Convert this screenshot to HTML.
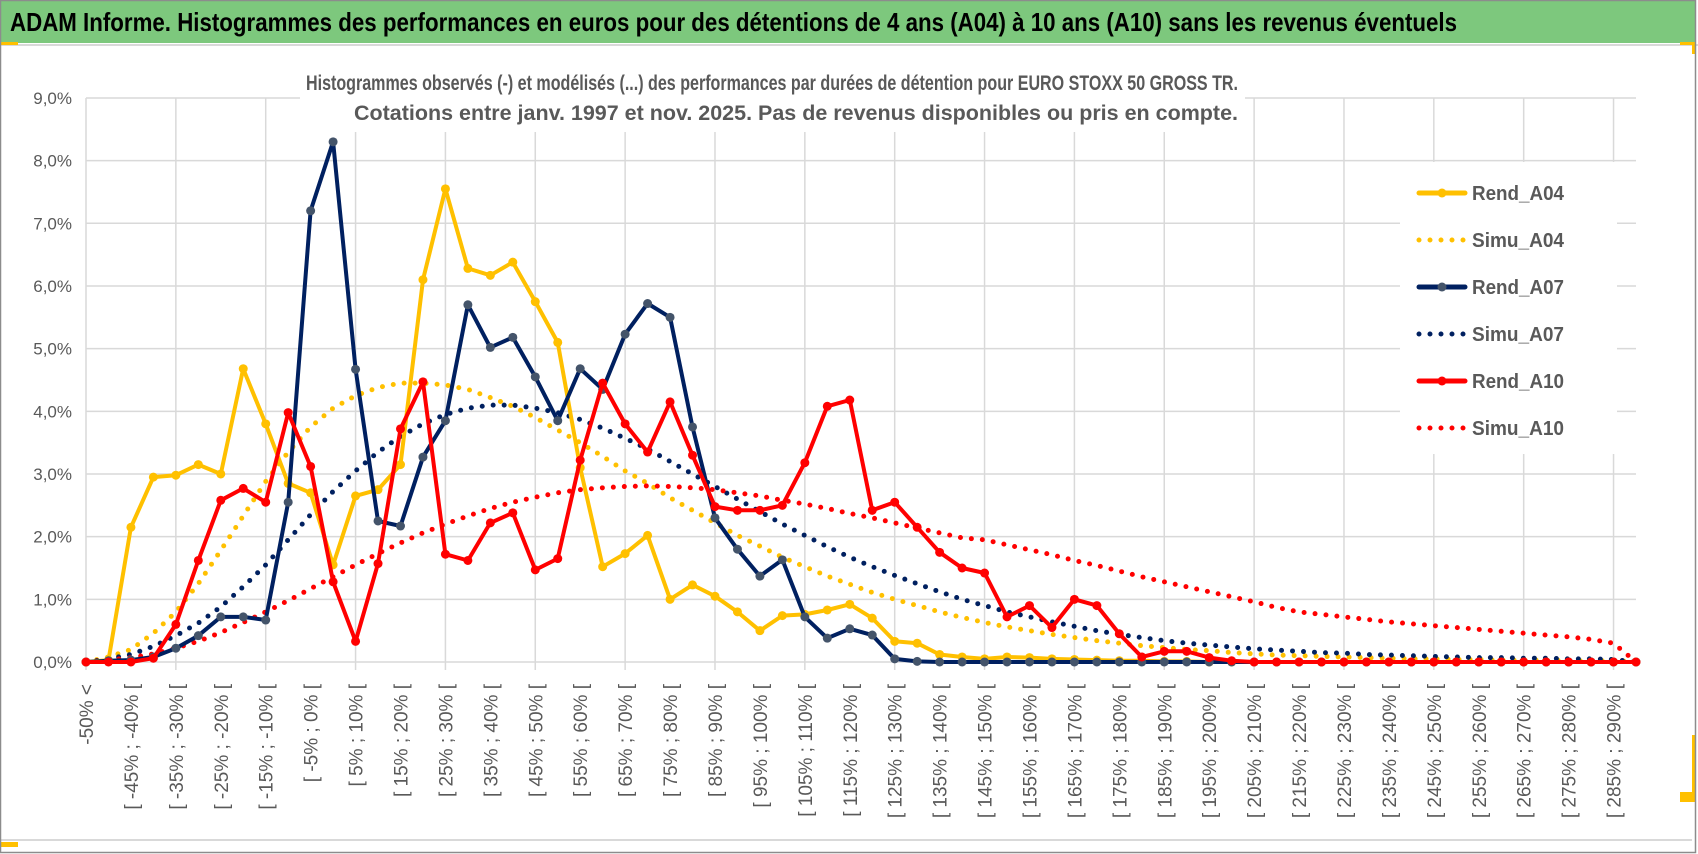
<!DOCTYPE html>
<html><head><meta charset="utf-8"><style>
html,body{margin:0;padding:0;background:#fff;}
svg{display:block;font-family:"Liberation Sans Narrow","Liberation Sans",sans-serif;}
</style></head><body>
<svg id="chart" width="1698" height="854" viewBox="0 0 1698 854" xmlns="http://www.w3.org/2000/svg">
<rect x="0" y="0" width="1698" height="854" fill="#fff"/>
<rect x="1" y="1" width="1694" height="42" fill="#7dc87d"/>
<line x1="0" y1="45" x2="1698" y2="45" stroke="#d9d9d9" stroke-width="2"/>
<rect x="1" y="42" width="17" height="3" fill="#ffc000"/>
<rect x="1680" y="42" width="15" height="3" fill="#ffc000"/>
<rect x="1692" y="42" width="3" height="12" fill="#ffc000"/>
<rect x="1680" y="792" width="15" height="10" fill="#ffc000"/>
<rect x="1692" y="735" width="3" height="65" fill="#ffc000"/>
<rect x="1" y="842" width="17" height="5" fill="#ffc000"/>
<line x1="1" y1="840" x2="1692" y2="840" stroke="#d9d9d9" stroke-width="2"/>
<rect x="0.5" y="0.5" width="1695" height="852" fill="none" stroke="#8c8c8c" stroke-width="1.5"/>
<text x="10" y="31" font-size="26" font-weight="bold" fill="#000" textLength="1447" lengthAdjust="spacingAndGlyphs">ADAM Informe. Histogrammes des performances en euros pour des détentions de 4 ans (A04) à 10 ans (A10) sans les revenus éventuels</text>
<g id="grid"></g>
<g id="axes"></g>
<g id="series"></g>
<rect x="300" y="62" width="945" height="70" fill="#fff"/>
<text x="772" y="90" text-anchor="middle" font-size="21" font-weight="bold" fill="#595959" font-family="Liberation Sans Narrow, Liberation Sans, sans-serif" textLength="932" lengthAdjust="spacingAndGlyphs">Histogrammes observés (-) et modélisés (...) des performances par durées de détention pour EURO STOXX 50 GROSS TR.</text>
<text x="796" y="120" text-anchor="middle" font-size="21" font-weight="bold" fill="#595959" font-family="Liberation Sans Narrow, Liberation Sans, sans-serif" textLength="884" lengthAdjust="spacingAndGlyphs">Cotations entre janv. 1997 et nov. 2025. Pas de revenus disponibles ou pris en compte.</text>
<g id="legend"></g>
</svg>
<script>
const categoryLower = [];
for (let k = 0; k < 70; k++) categoryLower.push(-55 + 5 * k);
const yTicks = [0,1,2,3,4,5,6,7,8,9];
const yTickLabels = ["0,0%","1,0%","2,0%","3,0%","4,0%","5,0%","6,0%","7,0%","8,0%","9,0%"];
const rendA04 = [0,0.03,2.15,2.95,2.98,3.15,3.0,4.68,3.8,2.85,2.7,1.55,2.65,2.75,3.15,6.1,7.55,6.28,6.17,6.38,5.75,5.1,3.1,1.52,1.73,2.02,1.0,1.23,1.05,0.8,0.5,0.74,0.76,0.83,0.92,0.7,0.33,0.3,0.12,0.08,0.05,0.08,0.07,0.05,0.04,0.03,0.02,0.02,0.01,0.01,0,0,0,0,0,0,0,0,0,0,0,0,0,0,0,0,0,0,0,0];
const simuA04 = [0,0.08,0.2,0.46,0.8,1.25,1.78,2.33,2.88,3.35,3.75,4.05,4.25,4.38,4.45,4.45,4.42,4.35,4.22,4.08,3.9,3.7,3.5,3.28,3.05,2.85,2.62,2.42,2.22,2.02,1.85,1.67,1.52,1.37,1.24,1.11,1.0,0.9,0.8,0.71,0.63,0.56,0.5,0.44,0.39,0.34,0.3,0.26,0.23,0.2,0.18,0.15,0.13,0.11,0.1,0.09,0.08,0.07,0.06,0.05,0.05,0.04,0.04,0.03,0.03,0.03,0.02,0.02,0.02,0];
const rendA07 = [0,0.02,0.03,0.08,0.22,0.42,0.72,0.72,0.67,2.55,7.2,8.3,4.67,2.25,2.17,3.27,3.85,5.7,5.02,5.18,4.55,3.85,4.68,4.35,5.23,5.72,5.5,3.75,2.3,1.8,1.37,1.63,0.72,0.38,0.53,0.43,0.05,0.01,0,0,0,0,0,0,0,0,0,0,0,0,0,0,0,0,0,0,0,0,0,0,0,0,0,0,0,0,0,0,0,0];
const simuA07 = [0,0.05,0.12,0.25,0.42,0.62,0.88,1.2,1.55,1.95,2.35,2.72,3.05,3.35,3.6,3.8,3.95,4.05,4.1,4.1,4.05,3.98,3.87,3.73,3.57,3.4,3.2,3.0,2.8,2.6,2.4,2.2,2.02,1.84,1.67,1.52,1.38,1.25,1.12,1.0,0.9,0.8,0.72,0.64,0.57,0.5,0.44,0.39,0.34,0.3,0.27,0.24,0.21,0.19,0.17,0.15,0.14,0.12,0.11,0.1,0.09,0.08,0.07,0.07,0.06,0.06,0.05,0.05,0.04,0];
const rendA10 = [0,0,0,0.06,0.6,1.62,2.58,2.77,2.55,3.98,3.12,1.28,0.33,1.57,3.72,4.47,1.72,1.62,2.22,2.38,1.47,1.65,3.22,4.45,3.8,3.35,4.15,3.3,2.48,2.42,2.42,2.5,3.18,4.08,4.18,2.42,2.55,2.15,1.75,1.5,1.42,0.72,0.9,0.55,1.0,0.9,0.45,0.08,0.17,0.17,0.07,0.02,0,0,0,0,0,0,0,0,0,0,0,0,0,0,0,0,0,0];
const simuA10 = [0,0.03,0.07,0.13,0.22,0.33,0.47,0.63,0.8,0.98,1.17,1.36,1.55,1.73,1.9,2.06,2.2,2.33,2.45,2.55,2.63,2.7,2.75,2.78,2.8,2.81,2.8,2.78,2.75,2.7,2.65,2.58,2.52,2.45,2.37,2.3,2.22,2.14,2.06,1.98,1.95,1.87,1.79,1.71,1.62,1.54,1.45,1.36,1.28,1.2,1.12,1.04,0.96,0.87,0.8,0.76,0.72,0.68,0.64,0.61,0.58,0.55,0.52,0.49,0.46,0.43,0.4,0.36,0.3,0];

const NS = "http://www.w3.org/2000/svg";
const X0 = 86, X1 = 1636, Y0 = 662, YPER = 62.67;
const xPos = i => X0 + i * (X1 - X0) / (categoryLower.length - 1);
const yPos = v => Y0 - v * YPER;
function mk(tag, attrs, parent) {
  const e = document.createElementNS(NS, tag);
  for (const k in attrs) e.setAttribute(k, attrs[k]);
  parent.appendChild(e); return e;
}
const grid = document.getElementById('grid');
const axes = document.getElementById('axes');
yTicks.forEach((t, j) => {
  const l = mk('line', {x1: X0, x2: X1, y1: yPos(t), y2: yPos(t), stroke: '#d9d9d9', 'stroke-width': 1.5}, grid);
  
  
  const tx = mk('text', {x: 72, y: yPos(t) + 6, 'text-anchor': 'end', 'font-size': 17, fill: '#595959', 'font-family': 'Liberation Sans, sans-serif'}, axes);
  tx.textContent = yTickLabels[j];
  
  
});
categoryLower.forEach((lo, i) => {
  if (i % 4 === 0) {
    const g = mk('line', {x1: xPos(i), x2: xPos(i), y1: yPos(9), y2: Y0 + 8, stroke: '#d9d9d9', 'stroke-width': 1.5}, grid);
    
    
  }
  if (i % 2 === 0) {
    const label = i === 0 ? '-50% <' : '[ ' + lo + '% ; ' + (lo + 5) + '% [';
    const x = xPos(i) + 7, y = 684;
    const t = mk('text', {x: x, y: y, transform: 'rotate(-90 ' + x + ' ' + y + ')', 'text-anchor': 'end', 'font-size': 19, fill: '#595959', 'font-family': 'Liberation Sans, sans-serif'}, axes);
    t.textContent = label;
    
    
  }
});
const series = document.getElementById('series');
function pts(arr) { return arr.map((v, i) => xPos(i).toFixed(1) + ',' + yPos(v).toFixed(1)).join(' '); }
function dotted(arr, color, name) {
  const p = mk('polyline', {points: pts(arr), fill: 'none', stroke: color, 'stroke-width': 5, 'stroke-linecap': 'round', 'stroke-dasharray': '0 11'}, series);
  
  
}
function solid(arr, color, mcolor, name) {
  const p = mk('polyline', {points: pts(arr), fill: 'none', stroke: color, 'stroke-width': 4, 'stroke-linejoin': 'round'}, series);
  
  
  arr.forEach((v, i) => {
    const c = mk('circle', {cx: xPos(i), cy: yPos(v), r: 4.5, fill: mcolor}, series);
    
    
  });
}
dotted(simuA04, '#ffc000', 'simu-a04-line');
dotted(simuA07, '#002060', 'simu-a07-line');
dotted(simuA10, '#ff0000', 'simu-a10-line');
solid(rendA04, '#ffc000', '#ffc000', 'rend-a04');
solid(rendA07, '#002060', '#44546a', 'rend-a07');
solid(rendA10, '#ff0000', '#ff0000', 'rend-a10');

const legend = document.getElementById('legend');
mk('rect', {x: 1400, y: 162, width: 217, height: 292, fill: '#fff'}, legend);
const legendNames = ['Rend_A04','Simu_A04','Rend_A07','Simu_A07','Rend_A10','Simu_A10'];
const legendColors = ['#ffc000','#ffc000','#002060','#002060','#ff0000','#ff0000'];
const markerColors = ['#ffc000','#ffc000','#44546a','#002060','#ff0000','#ff0000'];
legendNames.forEach((n, j) => {
  const y = 193 + j * 47;
  const g = mk('g', {}, legend);
  
  
  if (j % 2 === 0) {
    mk('line', {x1: 1419, x2: 1465, y1: y, y2: y, stroke: legendColors[j], 'stroke-width': 5, 'stroke-linecap': 'round'}, g);
    mk('circle', {cx: 1442, cy: y, r: 4.5, fill: markerColors[j]}, g);
  } else {
    mk('line', {x1: 1419, x2: 1465, y1: y, y2: y, stroke: legendColors[j], 'stroke-width': 5, 'stroke-linecap': 'round', 'stroke-dasharray': '0 11'}, g);
  }
  const t = mk('text', {x: 1472, y: y + 7, 'font-size': 20, 'font-weight': 'bold', fill: '#595959', textLength: 92, lengthAdjust: 'spacingAndGlyphs'}, g);
  t.textContent = n;
});
</script>
</body></html>
